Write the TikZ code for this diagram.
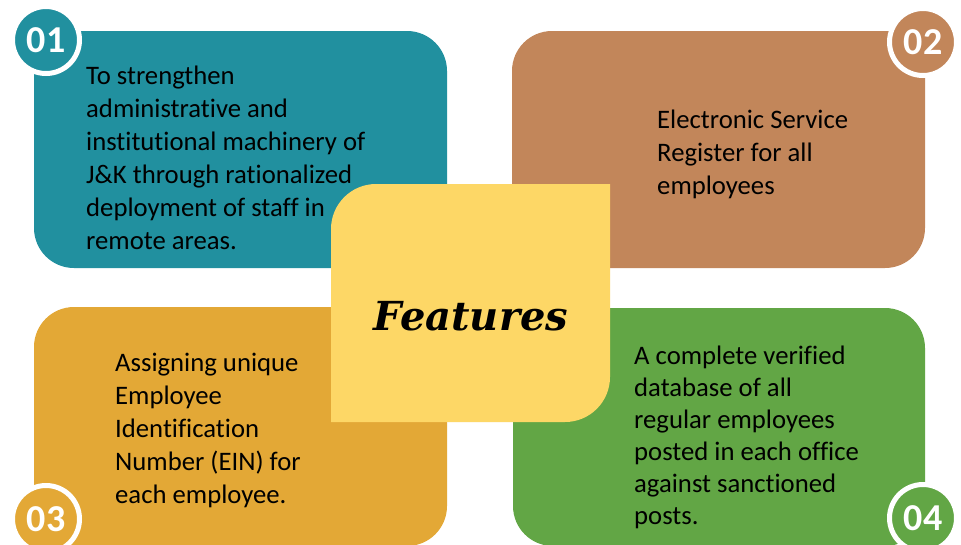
\documentclass[tikz,border=0pt]{standalone}
\usepackage{fontspec}
\setmainfont{Carlito}[Ligatures={NoCommon}]
\newfontfamily\featfont{DejaVu Serif}
\definecolor{cteal}{HTML}{21909F}
\definecolor{cbrown}{HTML}{C2865A}
\definecolor{corange}{HTML}{E3A836}
\definecolor{cgreen}{HTML}{62A645}
\definecolor{cyellow}{HTML}{FDD766}
\begin{document}
\begin{tikzpicture}[x=1pt,y=-1pt,
  card/.style={rounded corners=40pt},
  numc/.style={circle, minimum size=67pt, inner sep=0pt, draw=white, line width=5pt,
    text=white, font=\fontsize{38}{44}\selectfont\bfseries},
  txt/.style={anchor=base west, inner sep=0pt, text=black, font=\fontsize{26.7}{32}\selectfont}]
\useasboundingbox (0,0) rectangle (961,544);
\clip (0,0) rectangle (961,544);
\fill[white] (0,0) rectangle (961,544);
% cards
\fill[cteal, card] (34,31) rectangle (447,268);
\fill[cbrown, card] (512,31) rectangle (925,268);
\fill[corange, card] (34,307) rectangle (447,546);
\fill[cgreen, card] (513,308) rectangle (925,546);
% texts
\foreach \t [count=\i] in {To strengthen, administrative and, institutional machinery of, J\&K through rationalized, deployment of staff in, remote areas.}
  \node[txt] (a\i) at (86,{84+33*(\i-1)}) {\t};
\foreach \t [count=\i] in {Electronic Service, Register for all, employees}
  \node[txt] (b\i) at (657,{128+33*(\i-1)}) {\t};
\foreach \t [count=\i] in {Assigning unique, Employee, Identification, Number (EIN) for, each employee.}
  \node[txt] (c\i) at (115,{371+33*(\i-1)}) {\t};
\foreach \t [count=\i] in {A complete verified, database of all, regular employees, posted in each office, against sanctioned, posts.}
  \node[txt] (d\i) at (634,{364+32*(\i-1)}) {\t};
% centre
\fill[cyellow] (331,422) -- (331,229) arc(180:270:45) -- (610,184) -- (610,377) arc(0:90:45) -- cycle;
\node[anchor=base, inner sep=0pt, font=\featfont\bfseries\itshape\fontsize{40}{48}\selectfont] (feat) at (471,330) {Features};
% numbers
\node[numc, fill=cteal] (n1) at (46,40) {01};
\node[numc, fill=cbrown] (n2) at (923,42) {02};
\node[numc, fill=corange] (n3) at (46,519) {03};
\node[numc, fill=cgreen] (n4) at (923,518) {04};
\end{tikzpicture}
\end{document}
